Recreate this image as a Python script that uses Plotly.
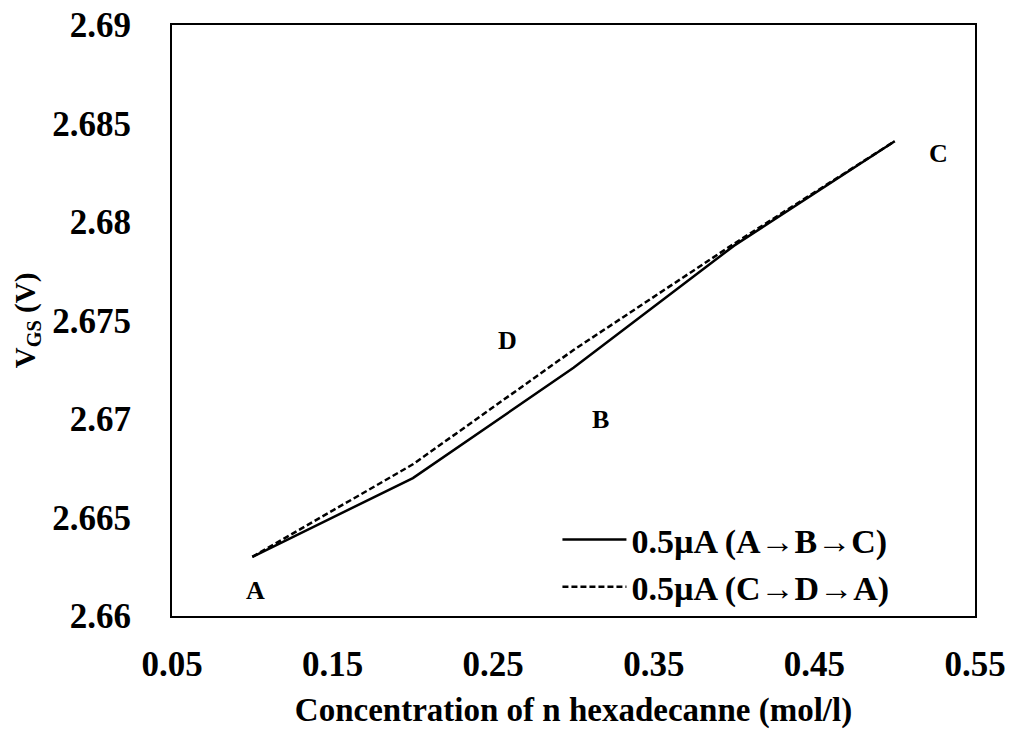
import plotly.graph_objects as go

conc = [0.1, 0.2, 0.3, 0.4, 0.5]
vgs_abc = [2.663, 2.6670, 2.6726, 2.6788, 2.6841]
vgs_cda = [2.663, 2.6677, 2.6735, 2.6789, 2.6841]

point_labels = ["A", "B", "C", "D"]
label_x = [0.1017, 0.3165, 0.527, 0.2586]
label_y = [2.6613, 2.66995, 2.6835, 2.6740]

x_ticks = [0.05, 0.15, 0.25, 0.35, 0.45, 0.55]
y_ticks = [2.66, 2.665, 2.67, 2.675, 2.68, 2.685, 2.69]
y_ticktext = ["2.66", "2.665", "2.67", "2.675", "2.68", "2.685", "2.69"]

FONT = "Liberation Serif"

fig = go.Figure()
fig.add_trace(go.Scatter(x=conc, y=vgs_abc, mode="lines",
                         line=dict(color="black", width=2.5),
                         name="<b>0.5µA (A→B→C)</b>"))
fig.add_trace(go.Scatter(x=conc, y=vgs_cda, mode="lines",
                         line=dict(color="black", width=2.5, dash="6px,3px"),
                         name="<b>0.5µA (C→D→A)</b>"))

for t, x, y in zip(point_labels, label_x, label_y):
    fig.add_annotation(x=x, y=y, text="<b>%s</b>" % t, showarrow=False,
                       font=dict(family=FONT, size=26, color="black"))

# y-axis title placed as rotated text left of tick labels
fig.add_annotation(xref="paper", yref="paper", x=-0.181, y=0.5,
                   xanchor="center", yanchor="middle", textangle=-90,
                   text="<b>V<sub>GS</sub> (V)</b>", showarrow=False,
                   font=dict(family=FONT, size=29, color="black"))

fig.update_layout(
    width=1018, height=729,
    margin=dict(l=172, r=43, t=25, b=113),
    paper_bgcolor="white", plot_bgcolor="white",
    font=dict(family=FONT, color="black"),
    showlegend=True,
    legend=dict(x=0.48, y=0.0, xanchor="left", yanchor="bottom",
                bgcolor="rgba(0,0,0,0)", font=dict(family=FONT, size=34),
                tracegroupgap=0, itemwidth=64),
)
fig.update_xaxes(range=[0.05, 0.55], tickvals=x_ticks,
                 ticktext=["<b>%.2f</b>" % v for v in x_ticks],
                 showgrid=False, zeroline=False, showline=True, linecolor="black",
                 linewidth=2, mirror=True, ticks="", ticklabelstandoff=16,
                 automargin=False,
                 tickfont=dict(family=FONT, size=35),
                 title=dict(text="<b>Concentration of n hexadecanne (mol/l)</b>",
                            font=dict(family=FONT, size=33), standoff=18))
fig.update_yaxes(range=[2.66, 2.69], tickvals=y_ticks,
                 ticktext=["<b>%s</b>" % s for s in y_ticktext],
                 showgrid=False, zeroline=False, showline=True, linecolor="black",
                 linewidth=2, mirror=True, ticks="", ticklabelstandoff=32,
                 automargin=False,
                 tickfont=dict(family=FONT, size=35))

fig.write_html("out.html")
